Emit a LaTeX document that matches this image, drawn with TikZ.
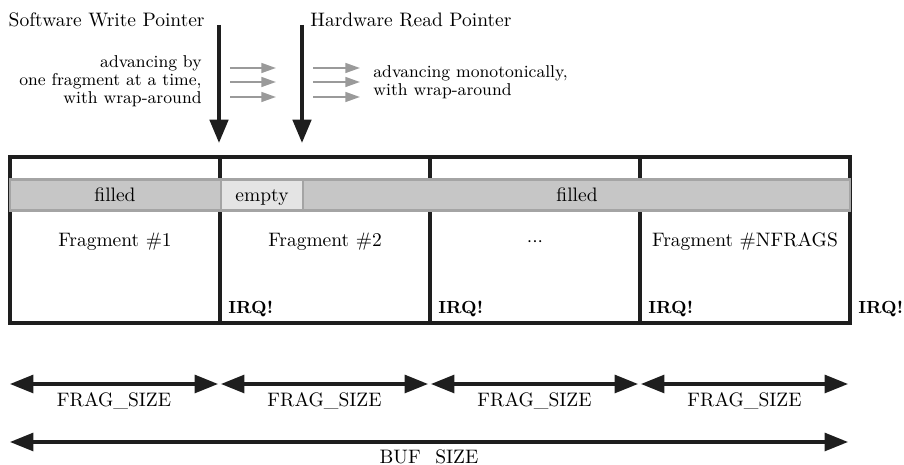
\documentclass[tikz,border=0pt]{standalone}
\usetikzlibrary{arrows.meta,positioning}

\definecolor{inkdark}{HTML}{1E1E1E}
\definecolor{bandfill}{HTML}{C6C6C6}
\definecolor{bandedge}{HTML}{A4A4A4}
\definecolor{emptyfill}{HTML}{E4E4E4}
\definecolor{advgray}{HTML}{9A9A9A}

\begin{document}
\begin{tikzpicture}[x=0.513pt,y=-0.513pt,
    pointer/.style={inkdark, line width=2pt, -{Triangle[length=12pt,width=9.4pt]}},
    advance/.style={advgray, line width=1.1pt, -{Triangle[length=7.5pt,width=5pt]}},
    dimline/.style={inkdark, line width=1.6pt, {Triangle[length=12pt,width=9.2pt]}-{Triangle[length=12pt,width=9.2pt]}},
    band/.style={fill=bandfill, draw=bandedge, line width=1.5pt},
    emptybox/.style={fill=emptyfill, draw=bandedge, line width=1.5pt},
    note/.style={font=\fontsize{8.8}{9.3}\selectfont, inner sep=0pt},
    irq/.style={font=\small\bfseries, anchor=base west, inner sep=0pt}]

    \useasboundingbox (0,0) rectangle (904,465);

    % buffer
    \draw[inkdark, line width=1.7pt] (10,157) rectangle (850,323);
    \foreach \x in {220,430,640}
        \draw[inkdark, line width=1.7pt] (\x,157) -- (\x,323);

    \draw[band] (10,179.5) rectangle (850,210.5);
    \draw[emptybox] (221,179.5) rectangle (303,210.5);

    \node[anchor=base] (filledA) at (115,201.5) {filled};
    \node[anchor=base] (empty) at (262,201.5) {empty};
    \node[anchor=base] (filledB) at (577,201.5) {filled};

    \node[anchor=base] (frag1) at (115,247) {Fragment \#1};
    \node[anchor=base] (frag2) at (325,247) {Fragment \#2};
    \node[anchor=base] (fragdots) at (535,247)
        {$\mathord{\cdot}\mathord{\cdot}\mathord{\cdot}$};
    \node[anchor=base] (fragN) at (745,247) {Fragment \#NFRAGS};

    \node[irq] (irq2) at (228,314) {IRQ!};
    \node[irq] (irq3) at (438,314) {IRQ!};
    \node[irq] (irq4) at (648,314) {IRQ!};
    \node[irq] (irq5) at (858,314) {IRQ!};

    % pointers
    \node[anchor=base east, inner sep=0pt] (swlabel) at (205,27) {Software Write Pointer};
    \node[anchor=base west, inner sep=0pt] (hwlabel) at (310,27) {Hardware Read Pointer};

    \coordinate (swtop) at (219,25);
    \coordinate (swtip) at (219,143);
    \coordinate (hwtop) at (302,25);
    \coordinate (hwtip) at (302,143);
    \draw[pointer] (swtop) -- (swtip);
    \draw[pointer] (hwtop) -- (hwtip);

    \node[note, anchor=east, align=right] (swnote) at (202,81)
        {advancing by\\one fragment at a time,\\with wrap-around};
    \node[note, anchor=west, align=left] (hwnote) at (373,82)
        {advancing monotonically,\\with wrap-around};

    \foreach \y [count=\i] in {68,82,97} {
        \coordinate (swa\i) at (230,\y);
        \coordinate (swb\i) at (276,\y);
        \coordinate (hwa\i) at (313,\y);
        \coordinate (hwb\i) at (360,\y);
        \draw[advance] (swa\i) -- (swb\i);
        \draw[advance] (hwa\i) -- (hwb\i);
    }

    % sizes
    \foreach \a/\b [count=\i] in {10/218,221/428,431/638,641/848} {
        \coordinate (fl\i) at (\a,384);
        \coordinate (fr\i) at (\b,384);
        \draw[dimline] (fl\i) -- (fr\i);
        \node[anchor=base] (fsize\i) at ({(\a+\b)/2},407) {FRAG\_SIZE};
    }

    \coordinate (bl) at (10,442);
    \coordinate (br) at (848,442);
    \draw[dimline] (bl) -- (br);
    \node[anchor=base] (bsize) at (429,464) {BUF\_SIZE};

\end{tikzpicture}
\end{document}
